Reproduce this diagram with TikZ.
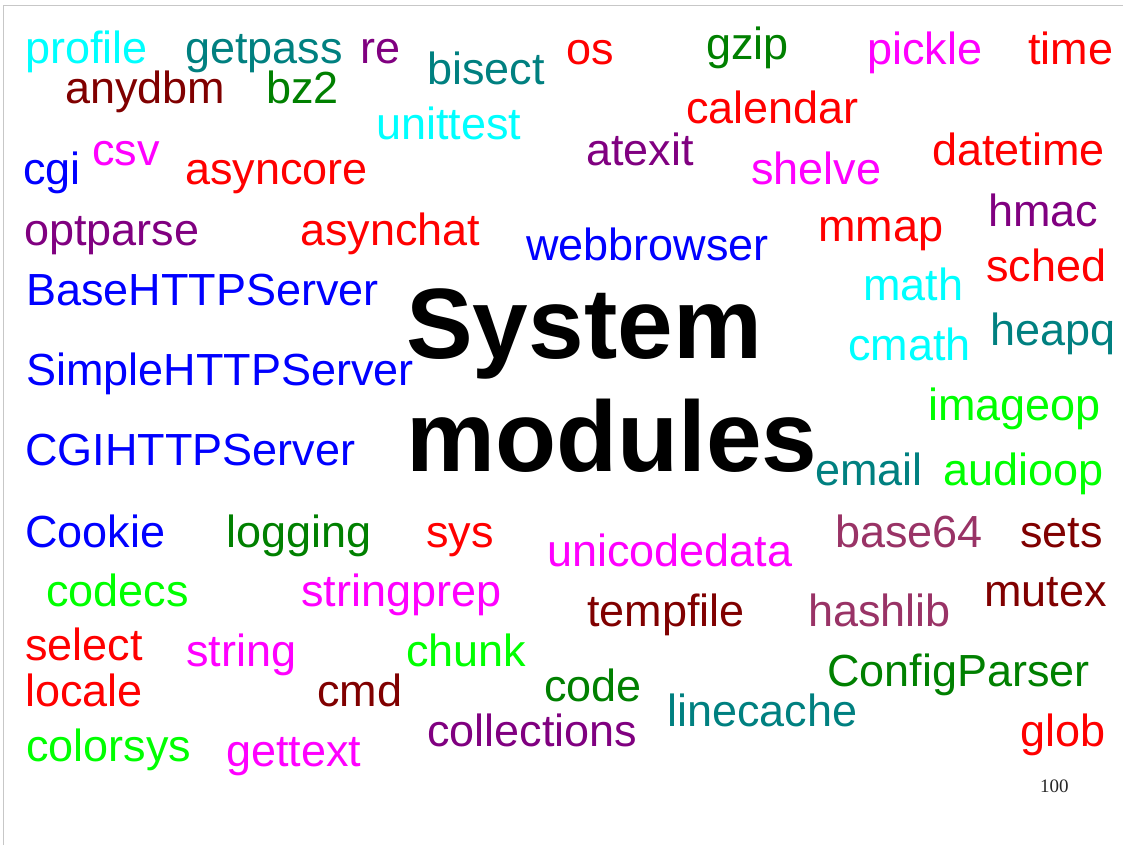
\documentclass[tikz,border=0pt]{standalone}
\usepackage{fontspec}
\setmainfont{Liberation Sans}
\newfontfamily\pagenumfont{Liberation Serif}
\definecolor{wcyan}{RGB}{0,255,255}
\definecolor{wteal}{RGB}{0,128,128}
\definecolor{wpurple}{RGB}{128,0,128}
\definecolor{wred}{RGB}{255,0,0}
\definecolor{wgreen}{RGB}{0,128,0}
\definecolor{wmagenta}{RGB}{255,0,255}
\definecolor{wmaroon}{RGB}{128,0,0}
\definecolor{wblue}{RGB}{0,0,255}
\definecolor{wlime}{RGB}{0,255,0}
\definecolor{wplum}{RGB}{153,51,102}
\tikzset{word/.style={anchor=base west,inner sep=0pt,font=\fontsize{45}{54}\selectfont},
  title/.style={anchor=base west,inner sep=0pt,font=\fontsize{100}{113}\selectfont\bfseries}}

\begin{document}
\begin{tikzpicture}[x=1pt,y=-1pt]
    \useasboundingbox (0,0) rectangle (1123,845);
    \draw [black!22,line width=1pt] (3.5,845) -- (3.5,6) -- (1123,6);
    % title
    \node [title] (system) at (406,358) {System};
    \node [title] (modules) at (406,471) {modules};
    % top rows
    \node [word,wcyan] (profile) at (25,64) {profile};
    \node [word,wteal] (getpass) at (185,64) {getpass};
    \node [word,wpurple] (re) at (360,64) {re};
    \node [word,wteal] (bisect) at (427,85) {bisect};
    \node [word,wred] (os) at (566,65) {os};
    \node [word,wgreen] (gzip) at (706,60) {gzip};
    \node [word,wmagenta] (pickle) at (867,65) {pickle};
    \node [word,wred] (time) at (1028,65) {time};
    \node [word,wmaroon] (anydbm) at (65,104) {anydbm};
    \node [word,wgreen] (bz2) at (266,104) {bz2};
    \node [word,wred] (calendar) at (686,124) {calendar};
    \node [word,wcyan] (unittest) at (376,140) {unittest};
    \node [word,wpurple] (atexit) at (586,165) {atexit};
    \node [word,wred] (datetime) at (932,165) {datetime};
    \node [word,wblue] (cgi) at (23,185) {cgi};
    \node [word,wmagenta] (csv) at (92,165) {csv};
    \node [word,wred] (asyncore) at (185,185) {asyncore};
    \node [word,wmagenta] (shelve) at (751,185) {shelve};
    \node [word,wpurple] (hmac) at (988,226) {hmac};
    \node [word,wpurple] (optparse) at (24,245) {optparse};
    \node [word,wred] (asynchat) at (300,245) {asynchat};
    \node [word,wred] (mmap) at (818,241) {mmap};
    \node [word,wblue] (webbrowser) at (526,260) {webbrowser};
    % middle
    \node [word,wred] (sched) at (986,281) {sched};
    \node [word,wblue] (BaseHTTPServer) at (26,305) {BaseHTTPServer};
    \node [word,wcyan] (math) at (863,300) {math};
    \node [word,wteal] (heapq) at (990,345) {heapq};
    \node [word,wcyan] (cmath) at (848,360) {cmath};
    \node [word,wblue] (SimpleHTTPServer) at (26,385) {SimpleHTTPServer};
    \node [word,wlime] (imageop) at (928,420) {imageop};
    \node [word,wblue] (CGIHTTPServer) at (25,465) {CGIHTTPServer};
    \node [word,wteal] (email) at (815,485) {email};
    \node [word,wlime] (audioop) at (943,485) {audioop};
    % bottom rows
    \node [word,wblue] (Cookie) at (25,547) {Cookie};
    \node [word,wgreen] (logging) at (226,547) {logging};
    \node [word,wred] (sys) at (426,547) {sys};
    \node [word,wmagenta] (unicodedata) at (547,566) {unicodedata};
    \node [word,wplum] (base64) at (835,547) {base64};
    \node [word,wmaroon] (sets) at (1020,547) {sets};
    \node [word,wlime] (codecs) at (46,606) {codecs};
    \node [word,wmagenta] (stringprep) at (301,606) {stringprep};
    \node [word,wmaroon] (tempfile) at (587,626) {tempfile};
    \node [word,wplum] (hashlib) at (808,626) {hashlib};
    \node [word,wmaroon] (mutex) at (984,606) {mutex};
    \node [word,wred] (select) at (25,660) {select};
    \node [word,wmagenta] (string) at (186,666) {string};
    \node [word,wlime] (chunk) at (406,666) {chunk};
    \node [word,wgreen] (ConfigParser) at (827,686) {ConfigParser};
    \node [word,wred] (locale) at (25,706) {locale};
    \node [word,wmaroon] (cmd) at (317,706) {cmd};
    \node [word,wgreen] (code) at (544,701) {code};
    \node [word,wteal] (linecache) at (667,726) {linecache};
    \node [word,wpurple] (collections) at (427,746) {collections};
    \node [word,wred] (glob) at (1020,746) {glob};
    \node [word,wlime] (colorsys) at (26,761) {colorsys};
    \node [word,wmagenta] (gettext) at (226,766) {gettext};
    % page number
    \node [anchor=base west,inner sep=0pt,black!85,font=\pagenumfont\fontsize{19}{22}\selectfont] (pagenum) at (1040,792) {100};
\end{tikzpicture}
\end{document}
